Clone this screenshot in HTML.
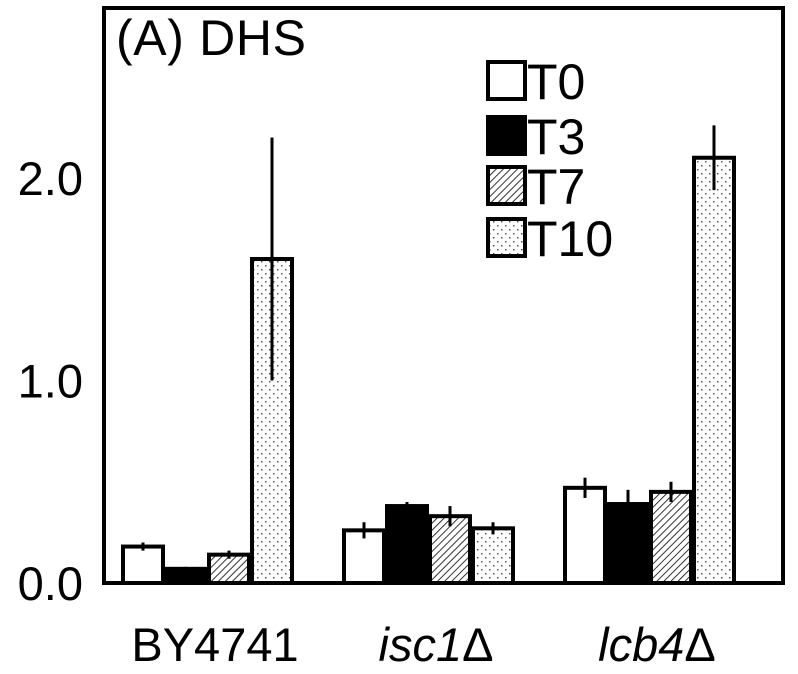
<!DOCTYPE html>
<html><head><meta charset="utf-8"><style>
body{margin:0;background:#fff}
svg{display:block;font-family:"Liberation Sans",Arial,sans-serif}
</style></head><body>
<svg id="c" width="798" height="674">
<defs>
<pattern id="hatch" width="5" height="5" patternUnits="userSpaceOnUse" patternTransform="rotate(45)">
<rect width="5" height="5" fill="#fff"/><line x1="0" y1="0" x2="0" y2="5" stroke="#000" stroke-width="1.6"/></pattern>
<pattern id="dots" width="8" height="8" patternUnits="userSpaceOnUse">
<rect width="8" height="8" fill="#fff"/><rect x="1" y="1" width="1.5" height="1.5" fill="#555"/><rect x="5" y="5" width="1.5" height="1.5" fill="#555"/></pattern>
</defs>
<g id="bars"></g>
<rect x="104" y="8" width="679" height="575" fill="none" stroke="#000" stroke-width="4"/>
<text x="116" y="55" font-size="50" textLength="190">(A) DHS</text>
<g id="legend"></g>
<g id="yticks"></g>
<g id="xlabels"></g>
</svg>
<script>
const categories=["BY4741","isc1","lcb4"];
const series=["T0","T3","T7","T10"];
const t0=[0.18,0.26,0.47];
const t3=[0.07,0.38,0.39];
const t7=[0.14,0.33,0.45];
const t10=[1.60,0.27,2.10];
const e0=[0.02,0.04,0.05];
const e3=[0.01,0.02,0.07];
const e7=[0.02,0.05,0.05];
const e10=[0.60,0.03,0.16];
const yTicks=[0,1,2];
const yTickLabels=["0.0","1.0","2.0"];
const NS="http://www.w3.org/2000/svg";
const y=v=>583-v*202.5;
const fills=["#fff","#000","url(#hatch)","url(#dots)"];
const vals=[t0,t3,t7,t10],errs=[e0,e3,e7,e10];
function mk(tag,attrs,parent){const e=document.createElementNS(NS,tag);for(const k in attrs)e.setAttribute(k,attrs[k]);parent.appendChild(e);return e;}
const bars=document.getElementById('bars');
categories.forEach((c,gi)=>{
  const gx=123+gi*221;
  series.forEach((s,si)=>{
    const x=gx+si*43,v=vals[si][gi],er=errs[si][gi];
    const r=mk('rect',{x:x,y:y(v),width:40,height:583-y(v),fill:fills[si],stroke:'#000','stroke-width':4},bars);
    
    
    const l=mk('line',{x1:x+20,x2:x+20,y1:y(v+er),y2:y(v-er),stroke:'#000','stroke-width':3},bars);
    
    
  });
  const t=mk('text',{x:gx+92,y:661,'font-size':47,'text-anchor':'middle'},document.getElementById('xlabels'));
  if(gi>0){
    const a=mk('tspan',{'font-style':'italic'},t);a.textContent=c;
    const b=mk('tspan',{},t);b.textContent='Δ';
  } else t.textContent=c;
  
  
});
yTicks.forEach((v,i)=>{
  const t=mk('text',{x:83,y:y(v)+17,'font-size':47,'text-anchor':'end'},document.getElementById('yticks'));
  t.textContent=yTickLabels[i];
  
  
});
const lg=document.getElementById('legend');
const ly=[62,117,167,219];
series.forEach((s,i)=>{
  const r=mk('rect',{x:488,y:ly[i],width:37,height:37,fill:fills[i],stroke:'#000','stroke-width':4},lg);
  
  
  const t=mk('text',{x:527,y:ly[i]+37,'font-size':50},lg);
  t.textContent=s;
  
  
});
</script>
</body></html>
